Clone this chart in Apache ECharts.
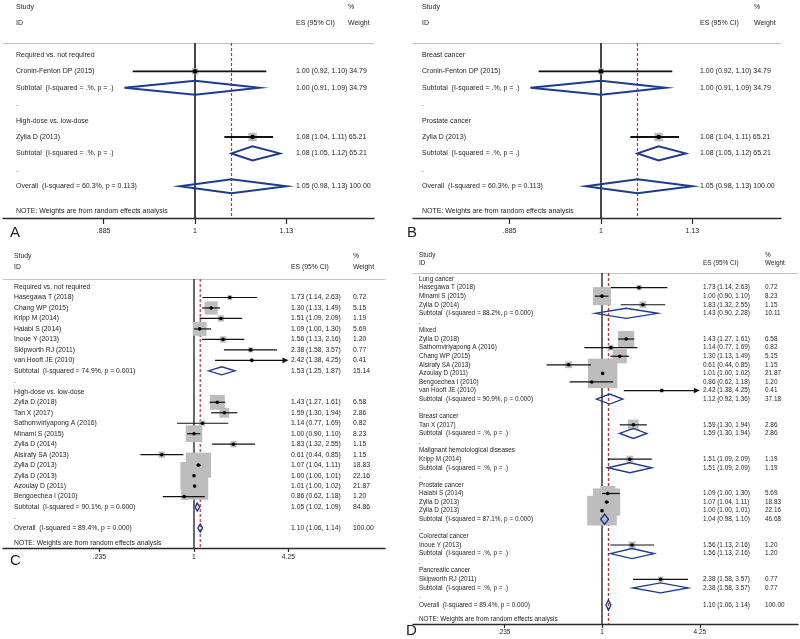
<!DOCTYPE html>
<html><head><meta charset="utf-8">
<script src="https://cdn.jsdelivr.net/npm/echarts@6.0.0/dist/echarts.min.js"></script>
<style>html,body{margin:0;padding:0;background:#fff}#c{width:800px;height:639px}</style>
</head><body><div id="c"></div>
<script>
// ================= DATA =================
// ---- Panel A ----
const aGroups = ['Required vs. not required', 'High-dose vs. low-dose'];
const aStudy = ['Cronin-Fenton DP (2015)', 'Zylla D (2013)'];
const aGroupOf = [0, 1];
const aES = [1.00, 1.08];
const aLo = [0.92, 1.04];
const aHi = [1.10, 1.11];
const aWt = [34.79, 65.21];
const aSubLabel = ['Subtotal  (I-squared = .%, p = .)', 'Subtotal  (I-squared = .%, p = .)'];
const aSubES = [1.00, 1.08];
const aSubLo = [0.91, 1.05];
const aSubHi = [1.09, 1.12];
const aSubWt = [34.79, 65.21];
const aOverallLabel = 'Overall  (I-squared = 60.3%, p = 0.113)';
const aOverall = [1.05, 0.98, 1.13, 100.00];
const aTickVals = [0.885, 1, 1.13];
const aTickLabels = ['.885', '1', '1.13'];

// ---- Panel B ----
const bGroups = ['Breast cancer', 'Prostate cancer'];
const bStudy = ['Cronin-Fenton DP (2015)', 'Zylla D (2013)'];
const bGroupOf = [0, 1];
const bES = [1.00, 1.08];
const bLo = [0.92, 1.04];
const bHi = [1.10, 1.11];
const bWt = [34.79, 65.21];
const bSubLabel = ['Subtotal  (I-squared = .%, p = .)', 'Subtotal  (I-squared = .%, p = .)'];
const bSubES = [1.00, 1.08];
const bSubLo = [0.91, 1.05];
const bSubHi = [1.09, 1.12];
const bSubWt = [34.79, 65.21];
const bOverallLabel = 'Overall  (I-squared = 60.3%, p = 0.113)';
const bOverall = [1.05, 0.98, 1.13, 100.00];
const bTickVals = [0.885, 1, 1.13];
const bTickLabels = ['.885', '1', '1.13'];

// ---- Panel C ----
const cGroups = ['Required vs. not required', 'High-dose vs. low-dose'];
const cStudy = ['Hasegawa T (2018)', 'Chang WP (2015)', 'Kripp M (2014)', 'Halabi S (2014)', 'Inoue Y (2013)',
  'Skipworth RJ (2011)', 'van Hooft JE (2010)',
  'Zylla D (2018)', 'Tan X (2017)', 'Sathornviriyapong A (2016)', 'Minami S (2015)', 'Zylla D (2014)',
  'Alsirafy SA (2013)', 'Zylla D (2013)', 'Zylla D (2013)', 'Azoulay D (2011)', 'Bengoechea I (2010)'];
const cGroupOf = [0, 0, 0, 0, 0, 0, 0, 1, 1, 1, 1, 1, 1, 1, 1, 1, 1];
const cES = [1.73, 1.30, 1.51, 1.09, 1.56, 2.38, 2.42, 1.43, 1.59, 1.14, 1.00, 1.83, 0.61, 1.07, 1.00, 1.01, 0.86];
const cLo = [1.14, 1.13, 1.09, 1.00, 1.13, 1.58, 1.38, 1.27, 1.30, 0.77, 0.90, 1.32, 0.44, 1.04, 1.00, 1.00, 0.62];
const cHi = [2.63, 1.49, 2.09, 1.30, 2.16, 3.57, 4.25, 1.61, 1.94, 1.69, 1.10, 2.55, 0.85, 1.11, 1.01, 1.02, 1.18];
const cWt = [0.72, 5.15, 1.19, 5.69, 1.20, 0.77, 0.41, 6.58, 2.86, 0.82, 8.23, 1.15, 1.15, 18.83, 22.16, 21.87, 1.20];
const cSubLabel = ['Subtotal  (I-squared = 74.9%, p = 0.001)', 'Subtotal  (I-squared = 90.1%, p = 0.000)'];
const cSubES = [1.53, 1.05];
const cSubLo = [1.25, 1.02];
const cSubHi = [1.87, 1.09];
const cSubWt = [15.14, 84.86];
const cOverallLabel = 'Overall  (I-squared = 89.4%, p = 0.000)';
const cOverall = [1.10, 1.06, 1.14, 100.00];
const cTickVals = [0.235, 1, 4.25];
const cTickLabels = ['.235', '1', '4.25'];

// ---- Panel D ----
const dGroups = ['Lung cancer', 'Mixed', 'Breast cancer', 'Malignant hemotological diseases',
  'Prostate cancer', 'Colorectal cancer', 'Pancreatic cancer'];
const dStudy = ['Hasegawa T (2018)', 'Minami S (2015)', 'Zylla D (2014)',
  'Zylla D (2018)', 'Sathornviriyapong A (2016)', 'Chang WP (2015)', 'Alsirafy SA (2013)', 'Azoulay D (2011)',
  'Bengoechea I (2010)', 'van Hooft JE (2010)',
  'Tan X (2017)', 'Kripp M (2014)',
  'Halabi S (2014)', 'Zylla D (2013)', 'Zylla D (2013)',
  'Inoue Y (2013)', 'Skipworth RJ (2011)'];
const dGroupOf = [0, 0, 0, 1, 1, 1, 1, 1, 1, 1, 2, 3, 4, 4, 4, 5, 6];
const dES = [1.73, 1.00, 1.83, 1.43, 1.14, 1.30, 0.61, 1.01, 0.86, 2.42, 1.59, 1.51, 1.09, 1.07, 1.00, 1.56, 2.38];
const dLo = [1.14, 0.90, 1.32, 1.27, 0.77, 1.13, 0.44, 1.00, 0.62, 1.38, 1.30, 1.09, 1.00, 1.04, 1.00, 1.13, 1.58];
const dHi = [2.63, 1.10, 2.55, 1.61, 1.69, 1.49, 0.85, 1.02, 1.18, 4.25, 1.94, 2.09, 1.30, 1.11, 1.01, 2.16, 3.57];
const dWt = [0.72, 8.23, 1.15, 6.58, 0.82, 5.15, 1.15, 21.87, 1.20, 0.41, 2.86, 1.19, 5.69, 18.83, 22.16, 1.20, 0.77];
const dSubLabel = ['Subtotal  (I-squared = 88.2%, p = 0.000)', 'Subtotal  (I-squared = 90.9%, p = 0.000)',
  'Subtotal  (I-squared = .%, p = .)', 'Subtotal  (I-squared = .%, p = .)',
  'Subtotal  (I-squared = 87.1%, p = 0.000)', 'Subtotal  (I-squared = .%, p = .)', 'Subtotal  (I-squared = .%, p = .)'];
const dSubES = [1.43, 1.12, 1.59, 1.51, 1.04, 1.56, 2.38];
const dSubLo = [0.90, 0.92, 1.30, 1.09, 0.98, 1.13, 1.58];
const dSubHi = [2.28, 1.36, 1.94, 2.09, 1.10, 2.16, 3.57];
const dSubWt = [10.11, 37.18, 2.86, 1.19, 46.68, 1.20, 0.77];
const dOverallLabel = 'Overall  (I-squared = 89.4%, p = 0.000)';
const dOverall = [1.10, 1.06, 1.14, 100.00];
const dTickVals = [0.235, 1, 4.25];
const dTickLabels = ['.235', '1', '4.25'];

const noteText = 'NOTE: Weights are from random effects analysis';

// ================= BUILD =================
function buildRows(groups, study, groupOf, es, lo, hi, wt, subLabel, subES, subLo, subHi, subWt, ovLabel, ov) {
  const rows = [];
  groups.forEach((g, gi) => {
    rows.push({type: 'group', label: g});
    study.forEach((s, i) => {
      if (groupOf[i] === gi) rows.push({type: 'study', label: s, es: es[i], lo: lo[i], hi: hi[i], wt: wt[i]});
    });
    rows.push({type: 'sub', label: subLabel[gi], es: subES[gi], lo: subLo[gi], hi: subHi[gi], wt: subWt[gi]});
    rows.push({type: 'blank', label: '.'});
  });
  rows.push({type: 'overall', label: ovLabel, es: ov[0], lo: ov[1], hi: ov[2], wt: ov[3]});
  return rows;
}

const FONT = '"Liberation Sans", Arial, Helvetica, sans-serif';
const TXT = '#262626';
const BOX = '#bdbdbd';
const NAVY = '#1e3c8c';
const RED = '#d42a2a';
const HDR = '#cdbfbb';

const panels = [
  {rows: buildRows(aGroups, aStudy, aGroupOf, aES, aLo, aHi, aWt, aSubLabel, aSubES, aSubLo, aSubHi, aSubWt, aOverallLabel, aOverall),
   ticks: aTickVals, tickLabels: aTickLabels, overall: aOverall[0],
   left: 3, right: 374, top: 43, bottom: 218, one: 195, scale: 748, row0: 55, rowH: 16.4,
   nameX: 16, esX: 296, wtX: 348, combined: true, font: 7, boxK: 1.05, diaH: 7, ciW: 1.8, refW: 1.6, diaW: 2,
   dotR: 2.3, tickLen: 6, labelMargin: 10, clipHi: null,
   letter: 'A', letterX: 10, letterY: 233, studyY: 7, idY: 23, noteY: 211},
  {rows: buildRows(bGroups, bStudy, bGroupOf, bES, bLo, bHi, bWt, bSubLabel, bSubES, bSubLo, bSubHi, bSubWt, bOverallLabel, bOverall),
   ticks: bTickVals, tickLabels: bTickLabels, overall: bOverall[0],
   left: 413, right: 781, top: 43, bottom: 218, one: 601, scale: 748, row0: 55, rowH: 16.4,
   nameX: 422, esX: 700, wtX: 754, combined: true, font: 7, boxK: 1.05, diaH: 7, ciW: 1.8, refW: 1.6, diaW: 2,
   dotR: 2.3, tickLen: 6, labelMargin: 10, clipHi: null,
   letter: 'B', letterX: 407, letterY: 233, studyY: 7, idY: 23, noteY: 211},
  {rows: buildRows(cGroups, cStudy, cGroupOf, cES, cLo, cHi, cWt, cSubLabel, cSubES, cSubLo, cSubHi, cSubWt, cOverallLabel, cOverall),
   ticks: cTickVals, tickLabels: cTickLabels, overall: cOverall[0],
   left: 3, right: 385, top: 279, bottom: 548, one: 194, scale: 65.3, row0: 287, rowH: 10.48,
   nameX: 14, esX: 291, wtX: 353, combined: false, font: 6.8, boxK: 5.8, diaH: 4, ciW: 1.2, refW: 1.3, diaW: 1.4,
   dotR: 1.8, tickLen: 4, labelMargin: 6, clipHi: 4.25,
   letter: 'C', letterX: 10, letterY: 561, studyY: 256, idY: 267, noteY: 543},
  {rows: buildRows(dGroups, dStudy, dGroupOf, dES, dLo, dHi, dWt, dSubLabel, dSubES, dSubLo, dSubHi, dSubWt, dOverallLabel, dOverall),
   ticks: dTickVals, tickLabels: dTickLabels, overall: dOverall[0],
   left: 413, right: 798, top: 273, bottom: 624, one: 602, scale: 67.6, row0: 279, rowH: 8.58,
   nameX: 419, esX: 703, wtX: 765, combined: false, font: 6.4, boxK: 6.3, diaH: 5, ciW: 1.2, refW: 1.3, diaW: 1.4,
   dotR: 1.8, tickLen: 4, labelMargin: 5, clipHi: 4.25,
   letter: 'D', letterX: 406, letterY: 631, studyY: 255, idY: 263, noteY: 619}
];

function txt(x, y, s, size, align, color) {
  return {type: 'text', x: x, y: y, style: {
    text: s, fill: color || TXT, fontSize: size, fontFamily: FONT,
    textAlign: align || 'left', align: align || 'left',
    textVerticalAlign: 'middle', verticalAlign: 'middle'}};
}

const grids = [], xAxes = [], yAxes = [], series = [], graphics = [];

panels.forEach((P, pi) => {
  const xMin = (P.left - P.one) / P.scale;
  const xMax = (P.right - P.one) / P.scale;
  const yMin = (P.top - P.row0) / P.rowH;
  const yMax = (P.bottom - P.row0) / P.rowH;
  const tickLn = P.ticks.map(v => Math.log(v));
  grids.push({left: P.left, top: P.top, width: P.right - P.left, height: P.bottom - P.top,
    containLabel: false, outerBoundsMode: 'none'});
  // bottom axis (real scale)
  xAxes.push({gridIndex: pi, type: 'value', position: 'bottom', min: xMin, max: xMax,
    axisLine: {show: true, onZero: false, lineStyle: {color: '#2b2b2b', width: 1.4}},
    axisTick: {show: true, length: P.tickLen, customValues: tickLn, lineStyle: {color: '#2b2b2b', width: 1.2}},
    axisLabel: {show: true, customValues: tickLn, margin: P.labelMargin, fontSize: P.font, fontFamily: FONT, color: TXT,
      formatter: function (v) {
        let best = 0, bd = Infinity;
        tickLn.forEach((t, i) => { const d = Math.abs(t - v); if (d < bd) { bd = d; best = i; } });
        return P.tickLabels[best];
      }},
    splitLine: {show: false}});
  // top axis: header rule
  xAxes.push({gridIndex: pi, type: 'value', position: 'top', min: xMin, max: xMax,
    axisLine: {show: true, onZero: false, lineStyle: {color: HDR, width: 1}},
    axisTick: {show: false}, axisLabel: {show: false}, splitLine: {show: false}});
  yAxes.push({gridIndex: pi, type: 'value', inverse: true, min: yMin, max: yMax, show: false});

  const xi = pi * 2, yi = pi;
  const data = P.rows.map((r, i) => [r.es != null ? Math.log(r.es) : 0, i]);

  // reference lines (null line at 1 and overall dashed line)
  series.push({type: 'custom', coordinateSystem: 'cartesian2d', xAxisIndex: xi, yAxisIndex: yi, z: 1,
    clip: false, silent: true, animation: false, data: [[Math.log(P.overall), 0]],
    renderItem: function (params, api) {
      const yt = api.coord([0, yMin])[1], yb = api.coord([0, yMax])[1];
      const x1 = api.coord([0, 0])[0];
      const xo = api.coord([api.value(0), 0])[0];
      return {type: 'group', children: [
        {type: 'line', shape: {x1: x1, y1: yt, x2: x1, y2: yb}, style: {stroke: '#1a1a1a', lineWidth: P.refW}},
        {type: 'line', shape: {x1: xo, y1: yt, x2: xo, y2: yb}, style: {stroke: RED, lineWidth: 1.2, lineDash: [3, 2]}}
      ]};
    }});

  // weight boxes
  series.push({type: 'custom', coordinateSystem: 'cartesian2d', xAxisIndex: xi, yAxisIndex: yi, z: 2,
    clip: false, silent: true, animation: false, data: data,
    renderItem: function (params, api) {
      const r = P.rows[params.dataIndex];
      if (r.type !== 'study') return {type: 'group', children: []};
      const c = api.coord([api.value(0), api.value(1)]);
      const s = P.boxK * Math.sqrt(r.wt);
      return {type: 'rect', shape: {x: c[0] - s / 2, y: c[1] - s / 2, width: s, height: s}, style: {fill: BOX}};
    }});

  // CI lines, points, diamonds and row texts
  series.push({type: 'custom', coordinateSystem: 'cartesian2d', xAxisIndex: xi, yAxisIndex: yi, z: 3,
    clip: false, silent: true, animation: false, data: data,
    renderItem: function (params, api) {
      const r = P.rows[params.dataIndex];
      const y = api.coord([0, api.value(1)])[1];
      const kids = [];
      kids.push(txt(P.nameX, y, r.label, P.font));
      if (r.es != null) {
        const esStr = r.es.toFixed(2) + ' (' + r.lo.toFixed(2) + ', ' + r.hi.toFixed(2) + ')';
        const wStr = r.wt.toFixed(2);
        if (P.combined) kids.push(txt(P.esX, y, esStr + ' ' + wStr, P.font));
        else { kids.push(txt(P.esX, y, esStr, P.font)); kids.push(txt(P.wtX, y, wStr, P.font)); }
        const xe = api.coord([api.value(0), 0])[0];
        const xl = api.coord([Math.log(r.lo), 0])[0];
        const arrow = P.clipHi != null && r.hi >= P.clipHi;
        const xh = api.coord([Math.log(arrow ? P.clipHi : r.hi), 0])[0];
        if (r.type === 'study') {
          kids.push({type: 'line', shape: {x1: xl, y1: y, x2: arrow ? xh - 4 : xh, y2: y},
            style: {stroke: '#111', lineWidth: P.ciW}});
          if (arrow) kids.push({type: 'polygon', shape: {points: [[xh - 6, y - 2.8], [xh, y], [xh - 6, y + 2.8]]},
            style: {fill: '#111'}});
          kids.push({type: 'circle', shape: {cx: xe, cy: y, r: P.dotR}, style: {fill: '#000'}});
        } else {
          kids.push({type: 'polygon', shape: {points: [[xl, y], [xe, y - P.diaH], [xh, y], [xe, y + P.diaH]]},
            style: {fill: 'none', stroke: NAVY, lineWidth: P.diaW}});
        }
      }
      return {type: 'group', children: kids};
    }});

  // headers, note, panel letter
  graphics.push(txt(P.nameX, P.studyY, 'Study', P.font));
  graphics.push(txt(P.nameX, P.idY, 'ID', P.font));
  graphics.push(txt(P.esX, P.idY, 'ES (95% CI)', P.font));
  graphics.push(txt(P.wtX, P.studyY, '%', P.font));
  graphics.push(txt(P.wtX, P.idY, 'Weight', P.font));
  graphics.push(txt(P.nameX, P.noteY, noteText, P.font));
  graphics.push(txt(P.letterX, P.letterY, P.letter, 15, 'left', '#222'));
});

const chart = echarts.init(document.getElementById('c'), null, {renderer: 'canvas'});
chart.setOption({
  animation: false,
  backgroundColor: '#fff',
  grid: grids,
  xAxis: xAxes,
  yAxis: yAxes,
  series: series,
  graphic: {elements: graphics}
});
</script>
</body></html>
